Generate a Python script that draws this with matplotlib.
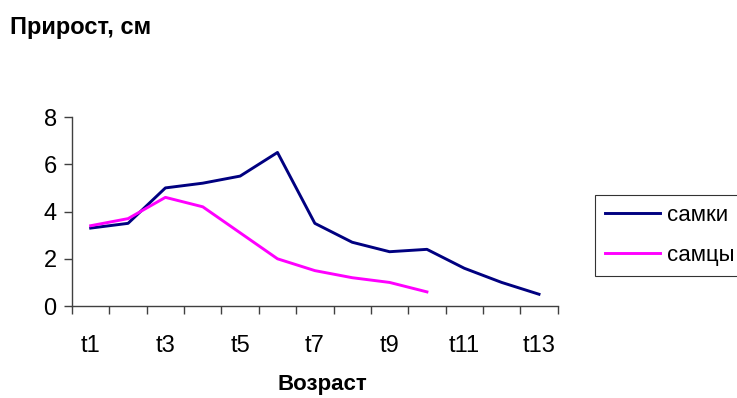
import matplotlib
matplotlib.use("Agg")
import matplotlib.pyplot as plt
import numpy as np

plt.rcParams['font.family'] = ['Liberation Sans', 'DejaVu Sans']

categories = ["t1", "t2", "t3", "t4", "t5", "t6", "t7", "t8", "t9", "t10", "t11", "t12", "t13"]
females = [3.3, 3.5, 5.0, 5.2, 5.5, 6.5, 3.5, 2.7, 2.3, 2.4, 1.6, 1.0, 0.5]
males = [3.4, 3.7, 4.6, 4.2, 3.1, 2.0, 1.5, 1.2, 1.0, 0.6]
yticks = [0, 2, 4, 6, 8]

fig = plt.figure(figsize=(7.37, 3.98), dpi=100)
ax = fig.add_axes([0.0977, 0.231, 0.659, 0.475])

x_f = np.arange(1, len(females) + 1)
x_m = np.arange(1, len(males) + 1)
ax.plot(x_f, females, color="#000080", lw=2.1, label="самки")
ax.plot(x_m, males, color="#FF00FF", lw=2.1, label="самцы")

ax.set_xlim(0.5, len(categories) + 0.5)
ax.set_ylim(0, 8)
ax.set_yticks(yticks)
ax.set_xticks(x_f[::2])
ax.set_xticklabels(categories[::2])
ax.set_xticks(np.arange(0.5, len(categories) + 1.0, 1.0), minor=True)
ax.tick_params(axis='x', which='major', length=0, pad=21, labelsize=17)
ax.tick_params(axis='x', which='minor', length=6, width=1, color="#404040", direction='out')
ax.tick_params(axis='y', length=6, width=1, color="#404040", labelsize=17, pad=5)

for s in ["top", "right"]:
    ax.spines[s].set_visible(False)
for s in ["left", "bottom"]:
    ax.spines[s].set_color("#404040")
    ax.spines[s].set_linewidth(1)

fig.text(0.014, 0.932, "Прирост, см", fontsize=17, fontweight="bold", ha="left", va="center")
fig.text(0.437, 0.035, "Возраст", fontsize=16, fontweight="bold", ha="center", va="center")

leg = fig.legend(loc="upper left", bbox_to_anchor=(0.807, 0.510), fontsize=16,
                 frameon=True, fancybox=False, edgecolor="black", handlelength=2.5,
                 handletextpad=0.3, borderpad=0.45, labelspacing=0.85, borderaxespad=0)
leg.get_frame().set_linewidth(0.8)

fig.savefig("out.png", dpi=100)
